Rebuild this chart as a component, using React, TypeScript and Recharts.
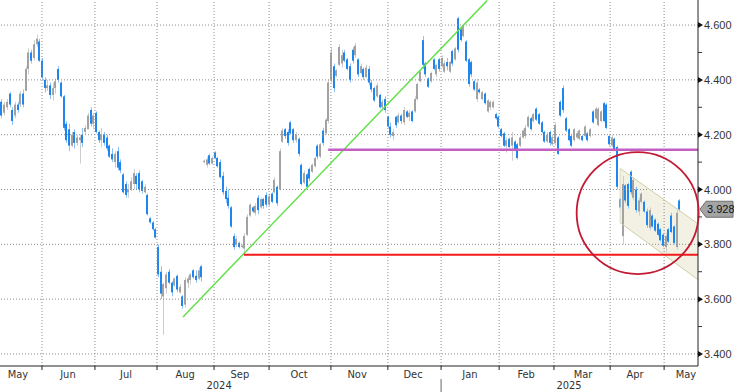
import React from 'react';
import {
  ComposedChart,
  Bar,
  Area,
  XAxis,
  YAxis,
  ReferenceLine,
  ReferenceDot,
} from 'recharts';

// daily bars, May 2024 -> May 2025 (one entry per trading day)
const opens = [
  4.32, 4.28, 4.30, 4.35, 4.29, 4.27, 4.31, 4.31, 4.35, 4.36,
  4.44, 4.50, 4.48, 4.53, 4.54, 4.47, 4.40, 4.37, 4.38, 4.345,
  4.37, 4.44, 4.39, 4.34, 4.24, 4.22, 4.16, 4.21, 4.17, 4.18,
  4.20, 4.21, 4.22, 4.29, 4.24, 4.28, 4.21, 4.18, 4.20, 4.19,
  4.16, 4.13, 4.10, 4.14, 4.10, 4.055, 4.02, 3.99, 4.00, 4.02,
  4.05, 4.06, 4.03, 3.99, 3.98, 3.895, 3.88, 3.855, 3.79, 3.70,
  3.61, 3.64, 3.70, 3.66, 3.65, 3.685, 3.625, 3.61, 3.58, 3.66,
  3.67, 3.705, 3.685, 3.675, 3.72, 4.10, 4.09, 4.125, 4.095, 4.135,
  4.115, 4.10, 4.05, 3.995, 3.97, 3.935, 3.83, 3.80, 3.805, 3.79,
  3.785, 3.835, 3.905, 3.935, 3.915, 3.97, 3.935, 3.965, 3.98, 3.945,
  3.985, 3.99, 4.01, 4.00, 4.175, 4.22, 4.21, 4.245, 4.22, 4.18,
  4.185, 4.09, 4.025, 4.055, 4.075, 4.065, 4.085, 4.16, 4.12, 4.215,
  4.205, 4.25, 4.40, 4.45, 4.415, 4.455, 4.46, 4.50, 4.475, 4.45,
  4.51, 4.49, 4.475, 4.425, 4.44, 4.41, 4.44, 4.39, 4.37, 4.34,
  4.345, 4.30, 4.33, 4.265, 4.23, 4.195, 4.265, 4.245, 4.27, 4.245,
  4.285, 4.265, 4.285, 4.285, 4.33, 4.395, 4.545, 4.46, 4.405, 4.395,
  4.475, 4.42, 4.475, 4.45, 4.43, 4.465, 4.43, 4.505, 4.475, 4.625,
  4.585, 4.56, 4.54, 4.475, 4.465, 4.395, 4.33, 4.365, 4.33, 4.35,
  4.285, 4.30, 4.30, 4.275, 4.265, 4.22, 4.205, 4.16, 4.185, 4.16,
  4.175, 4.165, 4.16, 4.19, 4.195, 4.23, 4.26, 4.25, 4.295, 4.275,
  4.245, 4.21, 4.175, 4.21, 4.165, 4.17, 4.19, 4.32, 4.37, 4.26,
  4.22, 4.195, 4.18, 4.19, 4.185, 4.195, 4.195, 4.205, 4.195, 4.285,
  4.26, 4.235, 4.25, 4.315, 4.31, 4.195, 4.16, 4.185, 4.155, 3.965,
  3.83, 4.015, 4.02, 4.065, 3.97, 4.00, 3.92, 3.955, 3.955, 3.92,
  3.86, 3.905, 3.89, 3.875, 3.855, 3.835, 3.79, 3.855, 3.905, 3.865,
  3.79, 3.96,
];
const highs = [
  4.33, 4.32, 4.33, 4.355, 4.30, 4.32, 4.32, 4.36, 4.365, 4.45,
  4.515, 4.51, 4.545, 4.565, 4.55, 4.48, 4.41, 4.40, 4.39, 4.39,
  4.405, 4.45, 4.395, 4.345, 4.25, 4.24, 4.21, 4.22, 4.20, 4.20,
  4.225, 4.235, 4.28, 4.30, 4.28, 4.285, 4.215, 4.225, 4.21, 4.20,
  4.165, 4.15, 4.14, 4.155, 4.11, 4.06, 4.03, 4.02, 4.045, 4.075,
  4.06, 4.07, 4.035, 4.02, 3.985, 3.90, 3.885, 3.86, 3.80, 3.72,
  3.66, 3.70, 3.71, 3.665, 3.68, 3.69, 3.655, 3.615, 3.68, 3.685,
  3.695, 3.71, 3.705, 3.715, 3.725, 4.11, 4.12, 4.13, 4.12, 4.14,
  4.12, 4.11, 4.065, 4.01, 4.00, 3.94, 3.84, 3.83, 3.81, 3.80,
  3.84, 3.91, 3.95, 3.94, 3.95, 3.98, 3.97, 3.97, 3.99, 3.985,
  3.99, 4.045, 4.015, 4.15, 4.225, 4.225, 4.22, 4.25, 4.225, 4.21,
  4.19, 4.095, 4.07, 4.06, 4.08, 4.095, 4.12, 4.165, 4.17, 4.225,
  4.26, 4.40, 4.52, 4.46, 4.44, 4.53, 4.51, 4.51, 4.48, 4.46,
  4.52, 4.535, 4.48, 4.46, 4.445, 4.455, 4.45, 4.40, 4.375, 4.39,
  4.35, 4.33, 4.34, 4.27, 4.245, 4.22, 4.27, 4.28, 4.275, 4.30,
  4.29, 4.29, 4.29, 4.34, 4.39, 4.435, 4.56, 4.465, 4.41, 4.43,
  4.48, 4.46, 4.48, 4.49, 4.47, 4.48, 4.47, 4.51, 4.52, 4.63,
  4.59, 4.605, 4.545, 4.48, 4.47, 4.40, 4.405, 4.37, 4.36, 4.355,
  4.33, 4.325, 4.325, 4.28, 4.27, 4.225, 4.21, 4.19, 4.19, 4.21,
  4.18, 4.17, 4.195, 4.22, 4.235, 4.27, 4.265, 4.28, 4.30, 4.28,
  4.25, 4.215, 4.21, 4.215, 4.20, 4.245, 4.195, 4.325, 4.38, 4.265,
  4.225, 4.20, 4.225, 4.215, 4.22, 4.20, 4.235, 4.21, 4.225, 4.29,
  4.30, 4.30, 4.29, 4.32, 4.315, 4.20, 4.20, 4.19, 4.16, 3.97,
  4.05, 4.02, 4.025, 4.07, 4.045, 4.01, 3.97, 3.99, 3.96, 3.93,
  3.935, 3.91, 3.895, 3.88, 3.86, 3.84, 3.84, 3.86, 3.915, 3.87,
  3.925, 3.965,
];
const lows = [
  4.26, 4.27, 4.29, 4.30, 4.235, 4.26, 4.28, 4.30, 4.30, 4.36,
  4.42, 4.46, 4.47, 4.52, 4.465, 4.40, 4.355, 4.36, 4.33, 4.325,
  4.35, 4.39, 4.335, 4.215, 4.17, 4.14, 4.155, 4.15, 4.16, 4.095,
  4.155, 4.20, 4.22, 4.23, 4.22, 4.205, 4.17, 4.155, 4.16, 4.14,
  4.115, 4.10, 4.08, 4.07, 4.06, 3.985, 3.97, 3.97, 3.995, 4.00,
  4.00, 3.99, 3.985, 3.985, 3.905, 3.875, 3.85, 3.82, 3.68, 3.60,
  3.47, 3.62, 3.655, 3.61, 3.645, 3.625, 3.62, 3.565, 3.57, 3.64,
  3.655, 3.675, 3.66, 3.67, 3.665, 4.095, 4.08, 4.09, 4.09, 4.11,
  4.08, 4.04, 3.98, 3.95, 3.93, 3.86, 3.78, 3.79, 3.785, 3.785,
  3.77, 3.83, 3.90, 3.915, 3.905, 3.91, 3.93, 3.93, 3.935, 3.94,
  3.95, 3.985, 3.94, 4.00, 4.17, 4.185, 4.16, 4.20, 4.17, 4.17,
  4.12, 4.015, 4.02, 4.005, 4.03, 4.06, 4.08, 4.11, 4.115, 4.16,
  4.20, 4.24, 4.39, 4.355, 4.41, 4.45, 4.445, 4.465, 4.435, 4.39,
  4.46, 4.48, 4.41, 4.42, 4.40, 4.405, 4.38, 4.355, 4.32, 4.335,
  4.295, 4.29, 4.28, 4.225, 4.19, 4.18, 4.225, 4.24, 4.24, 4.235,
  4.26, 4.25, 4.245, 4.28, 4.325, 4.39, 4.44, 4.41, 4.37, 4.39,
  4.435, 4.41, 4.43, 4.445, 4.425, 4.435, 4.425, 4.45, 4.47, 4.50,
  4.54, 4.555, 4.465, 4.375, 4.41, 4.36, 4.32, 4.35, 4.325, 4.31,
  4.28, 4.29, 4.295, 4.255, 4.225, 4.19, 4.155, 4.135, 4.15, 4.105,
  4.14, 4.11, 4.155, 4.185, 4.185, 4.225, 4.215, 4.245, 4.25, 4.235,
  4.205, 4.17, 4.17, 4.16, 4.16, 4.16, 4.125, 4.265, 4.28, 4.21,
  4.175, 4.155, 4.175, 4.185, 4.18, 4.175, 4.19, 4.175, 4.19, 4.24,
  4.255, 4.23, 4.245, 4.245, 4.22, 4.16, 4.155, 4.14, 4.00, 3.93,
  3.80, 3.95, 3.93, 3.98, 3.96, 3.915, 3.905, 3.95, 3.915, 3.86,
  3.85, 3.86, 3.845, 3.83, 3.81, 3.79, 3.77, 3.805, 3.84, 3.80,
  3.78, 3.92,
];
const closes = [
  4.27, 4.31, 4.32, 4.31, 4.25, 4.31, 4.29, 4.35, 4.31, 4.44,
  4.50, 4.47, 4.53, 4.55, 4.47, 4.41, 4.37, 4.38, 4.345, 4.37,
  4.395, 4.40, 4.34, 4.225, 4.18, 4.16, 4.20, 4.17, 4.19, 4.19,
  4.17, 4.225, 4.27, 4.24, 4.27, 4.21, 4.18, 4.20, 4.17, 4.15,
  4.12, 4.11, 4.13, 4.08, 4.07, 3.99, 3.98, 4.00, 4.03, 4.06,
  4.02, 4.00, 3.995, 4.01, 3.91, 3.88, 3.855, 3.825, 3.69, 3.62,
  3.655, 3.69, 3.66, 3.625, 3.675, 3.635, 3.645, 3.575, 3.67, 3.675,
  3.69, 3.68, 3.67, 3.705, 3.68, 4.105, 4.11, 4.095, 4.115, 4.115,
  4.085, 4.045, 3.99, 3.965, 3.94, 3.865, 3.79, 3.82, 3.79, 3.795,
  3.83, 3.90, 3.945, 3.92, 3.94, 3.925, 3.965, 3.94, 3.945, 3.975,
  3.955, 4.035, 3.95, 4.14, 4.215, 4.195, 4.17, 4.205, 4.18, 4.20,
  4.13, 4.02, 4.06, 4.01, 4.04, 4.09, 4.115, 4.12, 4.165, 4.17,
  4.255, 4.39, 4.50, 4.37, 4.435, 4.52, 4.49, 4.47, 4.44, 4.40,
  4.47, 4.525, 4.42, 4.45, 4.41, 4.445, 4.39, 4.365, 4.325, 4.38,
  4.30, 4.32, 4.29, 4.23, 4.20, 4.21, 4.235, 4.27, 4.25, 4.29,
  4.265, 4.28, 4.25, 4.33, 4.385, 4.43, 4.455, 4.42, 4.375, 4.425,
  4.44, 4.455, 4.44, 4.48, 4.46, 4.45, 4.465, 4.46, 4.515, 4.51,
  4.545, 4.60, 4.47, 4.385, 4.42, 4.365, 4.39, 4.355, 4.355, 4.315,
  4.325, 4.32, 4.32, 4.26, 4.23, 4.195, 4.16, 4.18, 4.155, 4.19,
  4.145, 4.115, 4.19, 4.215, 4.225, 4.265, 4.22, 4.275, 4.255, 4.24,
  4.21, 4.175, 4.20, 4.17, 4.19, 4.235, 4.13, 4.27, 4.29, 4.215,
  4.18, 4.16, 4.22, 4.205, 4.215, 4.18, 4.23, 4.18, 4.22, 4.245,
  4.295, 4.295, 4.285, 4.25, 4.225, 4.165, 4.19, 4.145, 4.01, 3.935,
  4.02, 3.96, 3.94, 3.99, 4.035, 3.925, 3.96, 3.985, 3.92, 3.87,
  3.925, 3.865, 3.85, 3.835, 3.815, 3.795, 3.83, 3.81, 3.845, 3.805,
  3.915, 3.928,
];

// x axis (bar index units)
const monthBounds = [15, 34.6, 57.6, 78.7, 99.1, 122, 143.1, 162.8, 184.3, 204.6, 225.4, 245.4];
const monthNames = ['May', 'Jun', 'Jul', 'Aug', 'Sep', 'Oct', 'Nov', 'Dec', 'Jan', 'Feb', 'Mar', 'Apr', 'May'];
const monthLabelAt = [6.1, 24.6, 46.1, 68, 88.3, 110.2, 131.7, 152.4, 173.5, 194.3, 215.4, 234.6, 253.5];
const yearNames = ['2024', '2025'];
const yearLabelAt = [80.6, 210.2];
const yearBreak = 162.8;

// y axis
const yMajor = [3.4, 3.6, 3.8, 4.0, 4.2, 4.4, 4.6];
const yMinor = [3.5, 3.7, 3.9, 4.1, 4.3, 4.5];

// drawn annotations
const trendStart = { x: 67.2, y: 3.535 };
const trendEnd = { x: 179.9, y: 4.69 };
const resistance = { from: 121, level: 4.145 };
const support = { from: 89.8, level: 3.762 };
const channelStart = { x: 229.1, upper: 4.077, lower: 3.879 };
const channelEnd = { x: 257.95, upper: 3.875, lower: 3.671 };
const circleCenter = { x: 235.6, y: 3.914 };

const X_DOMAIN = [-0.556, 257.95];
const Y_DOMAIN = [3.356, 4.6915];
const lastClose = closes[closes.length - 1];

const rows: any[] = opens.map((o, i) => ({ x: i, o, h: highs[i], l: lows[i], c: closes[i] }));
rows.push({ x: channelStart.x, up: channelStart.upper, lo: channelStart.lower });
rows.push({ x: channelEnd.x, up: channelEnd.upper, lo: channelEnd.lower });
rows.sort((a, b) => a.x - b.x);

const xTicks = [...monthBounds, ...monthLabelAt, ...yearLabelAt].sort((a, b) => a - b);
const yTicks = [...yMajor, ...yMinor, lastClose].sort((a, b) => a - b);

const narrow = "'Liberation Sans Narrow', 'DejaVu Sans Condensed', Arial, sans-serif";
const sans = "'Liberation Sans', Arial, sans-serif";
const gridColor = '#8c8c8c';

const Candle = (props: any) => {
  const { x, width, y, height, payload } = props;
  if (!payload || payload.h == null) return null;
  const { o, h, l, c } = payload;
  const top = Math.min(y, y + height);
  const hh = Math.max(Math.abs(height), 1);
  const k = h > l ? Math.abs(height) / (h - l) : 0;
  const cx = Math.round(x + width / 2);
  const bodyTop = top + (h - Math.max(o, c)) * k;
  const bodyH = Math.max(Math.abs(o - c) * k, 1);
  const down = c < o;
  const wick = down ? '#8ec2f6' : '#cdcdcd';
  const body = down ? '#1f86ee' : '#a2a2a2';
  return (
    <g>
      <rect x={cx} y={top} width={1} height={hh} fill={wick} />
      <rect x={cx - 1} y={bodyTop} width={2} height={bodyH} fill={body} />
    </g>
  );
};

const XTick = (props: any) => {
  const { x, y, payload } = props;
  const v = payload.value;
  if (monthBounds.includes(v)) {
    return (
      <g>
        <line x1={x} x2={x} y1={y} y2={y + 4} stroke="#222" />
        {v === yearBreak && <line x1={x} x2={x} y1={y + 13} y2={y + 26} stroke="#666" />}
      </g>
    );
  }
  const mi = monthLabelAt.indexOf(v);
  if (mi >= 0) {
    return (
      <text x={x} y={y + 12} textAnchor="middle" fontSize={11} fill="#333" style={{ fontFamily: narrow }}>
        {monthNames[mi]}
      </text>
    );
  }
  const yi = yearLabelAt.indexOf(v);
  if (yi >= 0) {
    return (
      <text x={x} y={y + 23} textAnchor="middle" fontSize={11} fill="#333" style={{ fontFamily: narrow }}>
        {yearNames[yi]}
      </text>
    );
  }
  return null;
};

const YTick = (props: any) => {
  const { x, y, payload } = props;
  const v = payload.value;
  if (v === lastClose) {
    return (
      <g>
        <polygon
          points={`${x + 2},${y} ${x + 8},${y - 8} ${x + 35},${y - 8} ${x + 35},${y + 8} ${x + 8},${y + 8}`}
          fill="#a4a4a4"
          stroke="#6f6f6f"
        />
        <text x={x + 9} y={y + 4} fontSize={11} fill="#111" style={{ fontFamily: sans }}>
          {v.toFixed(3)}
        </text>
      </g>
    );
  }
  if (!yMajor.includes(v)) {
    return <line x1={x} x2={x + 4} y1={y} y2={y} stroke="#333" />;
  }
  return (
    <g>
      <polygon points={`${x},${y - 3} ${x + 5},${y} ${x},${y + 3}`} fill="#111" />
      <text x={x + 6} y={y + 4} fontSize={11} fill="#333" style={{ fontFamily: sans }}>
        {v.toFixed(3)}
      </text>
    </g>
  );
};

export default function App() {
  return (
    <div style={{ position: 'absolute', left: 0, top: 0, background: '#fff' }}>
      <ComposedChart width={734} height={392} data={rows} margin={{ top: 0, right: 0, bottom: 0, left: 0 }}>
        <XAxis
          dataKey="x"
          type="number"
          domain={X_DOMAIN}
          allowDataOverflow
          ticks={xTicks}
          interval={0}
          tick={<XTick />}
          tickLine={false}
          tickSize={0}
          tickMargin={0}
          height={26}
          axisLine={{ stroke: '#222' }}
        />
        <YAxis
          orientation="right"
          type="number"
          domain={Y_DOMAIN}
          allowDataOverflow
          ticks={yTicks}
          interval={0}
          tick={<YTick />}
          tickLine={false}
          tickSize={0}
          tickMargin={0}
          width={36}
          axisLine={{ stroke: '#222' }}
        />
        {/* dotted grid */}
        {yMajor.map((v) => (
          <ReferenceLine key={`h${v}`} y={v} stroke={gridColor} strokeDasharray="1 2" ifOverflow="visible" />
        ))}
        {monthBounds.map((v) => (
          <ReferenceLine key={`v${v}`} x={v} stroke={gridColor} strokeDasharray="1 2" ifOverflow="visible" />
        ))}
        <Area
          dataKey={(r: any) => (r.up != null ? [r.lo, r.up] : null)}
          connectNulls
          stroke="none"
          fill="#ecebd8"
          fillOpacity={0.7}
          isAnimationActive={false}
          activeDot={false}
        />
        <Bar
          dataKey={(r: any) => (r.h != null ? [r.l, r.h] : null)}
          shape={<Candle />}
          barSize={3}
          isAnimationActive={false}
        />
        <ReferenceLine
          segment={[{ x: channelStart.x, y: channelStart.upper }, { x: channelEnd.x, y: channelEnd.upper }]}
          stroke="#cfcfa6"
          ifOverflow="visible"
        />
        <ReferenceLine
          segment={[{ x: channelStart.x, y: channelStart.lower }, { x: channelEnd.x, y: channelEnd.lower }]}
          stroke="#cfcfa6"
          ifOverflow="visible"
        />
        <ReferenceLine
          segment={[{ x: channelStart.x, y: channelStart.lower }, { x: channelStart.x, y: channelStart.upper }]}
          stroke="#dcdcc0"
          ifOverflow="visible"
        />
        <ReferenceLine
          segment={[trendStart, trendEnd]}
          stroke="#62e04a"
          strokeWidth={1.5}
          ifOverflow="visible"
        />
        <ReferenceLine
          segment={[{ x: resistance.from, y: resistance.level }, { x: X_DOMAIN[1], y: resistance.level }]}
          stroke="#c35fc3"
          strokeWidth={2.5}
          ifOverflow="visible"
        />
        <ReferenceLine
          segment={[{ x: support.from, y: support.level }, { x: X_DOMAIN[1], y: support.level }]}
          stroke="#f41a1a"
          strokeWidth={2}
          ifOverflow="visible"
        />
        <ReferenceDot
          x={circleCenter.x}
          y={circleCenter.y}
          r={61}
          fill="none"
          stroke="#c31a34"
          strokeWidth={1.8}
          ifOverflow="visible"
        />
      </ComposedChart>
    </div>
  );
}
